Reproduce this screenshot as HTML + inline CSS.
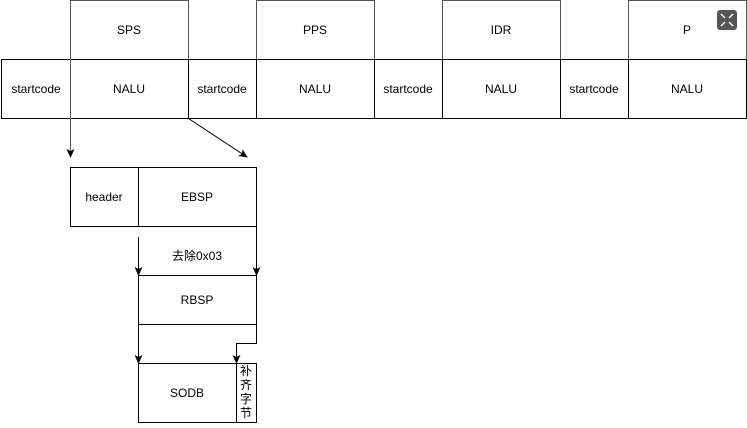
<!DOCTYPE html>
<html><head><meta charset="utf-8"><style>
body{margin:0;background:#fff;width:747px;height:423px;overflow:hidden}
svg text{font-family:"Liberation Sans","Noto Sans CJK SC",sans-serif;font-size:12px;fill:#000;text-anchor:middle;dominant-baseline:central}
</style></head><body>
<svg width="747" height="423" viewBox="0 0 747 423">
<defs><marker id="a" markerWidth="10" markerHeight="10" refX="8" refY="4" orient="auto" markerUnits="userSpaceOnUse"><path d="M0,0 L9,4 L0,8 L2,4 Z" fill="#000"/></marker></defs>
<g fill="#fff" stroke="#000" stroke-width="1">
<rect x="70.5" y="0.5" width="118" height="59" stroke="#555"/>
<rect x="256.5" y="0.5" width="118" height="59" stroke="#555"/>
<rect x="442.5" y="0.5" width="118" height="59" stroke="#555"/>
<rect x="628.5" y="0.5" width="118" height="59" stroke="#555"/>
<rect x="1.5" y="59.5" width="69" height="59"/>
<rect x="70.5" y="59.5" width="118" height="59"/>
<rect x="188.5" y="59.5" width="68" height="59"/>
<rect x="256.5" y="59.5" width="118" height="59"/>
<rect x="374.5" y="59.5" width="68" height="59"/>
<rect x="442.5" y="59.5" width="118" height="59"/>
<rect x="560.5" y="59.5" width="68" height="59"/>
<rect x="628.5" y="59.5" width="118" height="59"/>
<rect x="70.5" y="167.5" width="68" height="59"/>
<rect x="138.5" y="167.5" width="118" height="59"/>
<rect x="138.5" y="275.5" width="118" height="49"/>
<rect x="138.5" y="363.5" width="98" height="59"/>
<rect x="236.5" y="363.5" width="20" height="59"/>
</g>
<g stroke="#000" fill="none">
<line x1="70.5" y1="0" x2="70.5" y2="157" stroke="#555" marker-end="url(#a)"/>
<line x1="188.5" y1="118.5" x2="247" y2="157" marker-end="url(#a)"/>
<line x1="138.5" y1="237" x2="138.5" y2="275" marker-end="url(#a)"/>
<line x1="256.5" y1="226" x2="256.5" y2="275" marker-end="url(#a)"/>
<line x1="138.5" y1="324" x2="138.5" y2="363" marker-end="url(#a)"/>
<polyline points="256.5,324 256.5,343.5 236.5,343.5 236.5,363" marker-end="url(#a)"/>
</g>
<rect x="160" y="245" width="76" height="20" fill="#fff"/>
<text x="129" y="30">SPS</text><text x="315" y="30">PPS</text><text x="501" y="30">IDR</text><text x="687" y="30">P</text>
<text x="36" y="89">startcode</text><text x="129" y="89">NALU</text>
<text x="222" y="89">startcode</text><text x="315" y="89">NALU</text>
<text x="408" y="89">startcode</text><text x="501" y="89">NALU</text>
<text x="594" y="89">startcode</text><text x="687" y="89">NALU</text>
<text x="104" y="197">header</text><text x="197" y="197">EBSP</text>
<text x="197" y="256">去除0x03</text>
<text x="197" y="300">RBSP</text>
<text x="187" y="393">SODB</text>
<text x="246" y="371">补</text><text x="246" y="385">齐</text><text x="246" y="399">字</text><text x="246" y="413">节</text>
<rect x="717" y="10" width="20" height="20" rx="3" fill="#555"/>
<g stroke="#fff" stroke-width="1.5"><path d="M721,14l4,4M733,14l-4,4M721,26l4,-4M733,26l-4,-4"/></g>
</svg>
</body></html>
